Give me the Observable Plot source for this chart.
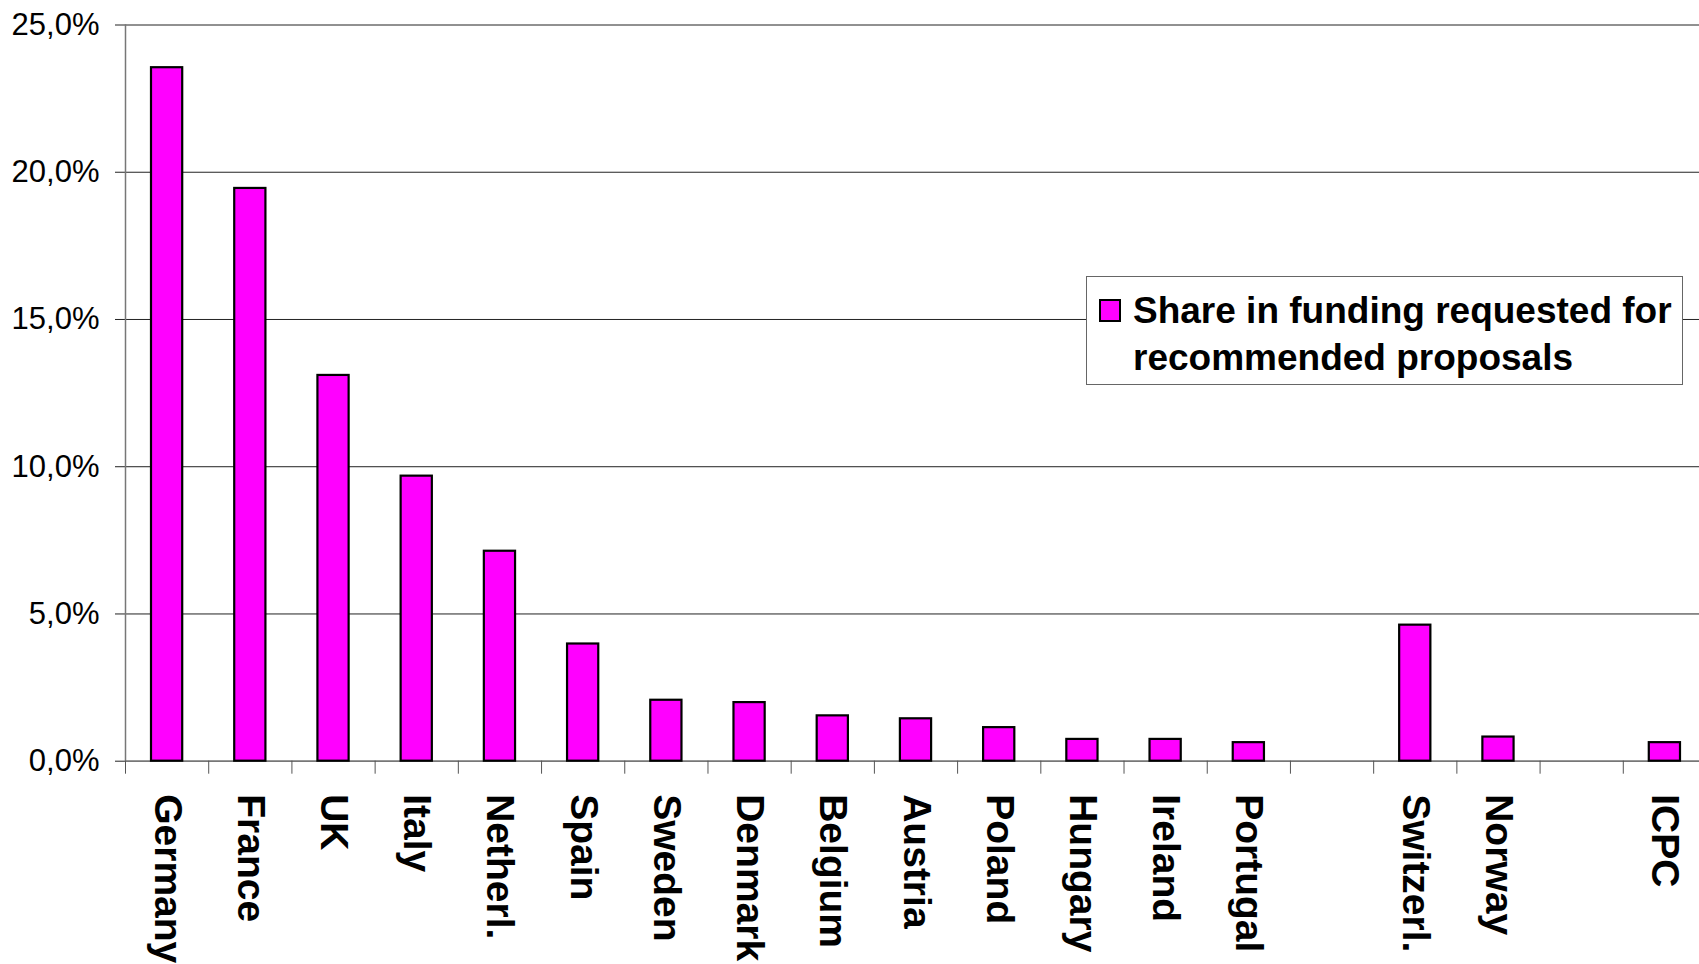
<!DOCTYPE html>
<html>
<head>
<meta charset="utf-8">
<script src="https://cdn.jsdelivr.net/npm/d3@7"></script>
<script src="https://cdn.jsdelivr.net/npm/@observablehq/plot@0.6"></script>
<style>
  html, body { margin: 0; padding: 0; background: #fff; }
  #wrap { position: relative; width: 1699px; height: 964px; overflow: hidden; font-family: "Liberation Sans", Arial, sans-serif; }
  #legend { position: absolute; left: 1086px; top: 276px; width: 597px; height: 109px; border: 1px solid #666; background: #fff; box-sizing: border-box; }
  #legend .sw { position: absolute; left: 12px; top: 22px; width: 22px; height: 23px; background: #ff00ff; border: 2px solid #000; box-sizing: border-box; }
  #legend .tx { position: absolute; left: 46px; top: 10px; font-size: 37px; font-weight: bold; line-height: 47px; color: #000; white-space: nowrap; }
</style>
</head>
<body>
<div id="wrap"></div>
<script>
// Categories in chart order ("" and " " are the two empty slots)
const categories = ["Germany", "France", "UK", "Italy", "Netherl.", "Spain", "Sweden", "Denmark", "Belgium", "Austria", "Poland", "Hungary", "Ireland", "Portugal", "", "Switzerl.", "Norway", " ", "ICPC"];
// Countries with a bar
const countries = ["Germany", "France", "UK", "Italy", "Netherl.", "Spain", "Sweden", "Denmark", "Belgium", "Austria", "Poland", "Hungary", "Ireland", "Portugal", "Switzerl.", "Norway", "ICPC"];
// Share in funding requested for recommended proposals (%)
const shares = [23.55, 19.45, 13.1, 9.68, 7.13, 3.98, 2.07, 1.99, 1.54, 1.44, 1.14, 0.74, 0.74, 0.63, 4.62, 0.82, 0.63];
const yTicks = [0, 5, 10, 15, 20, 25];
const seriesName = ["Share in funding requested for", "recommended proposals"];

const data = countries.map((c, i) => ({country: c, value: shares[i]}));

const W = 1699, H = 964, ML = 125, MR = -7, MT = 24.5, MB = 203.3;
const step = (W - ML - MR) / categories.length;
const fmt = d => d.toFixed(1).replace(".", ",") + "%";

const chart = Plot.plot({
  width: W,
  height: H,
  marginLeft: ML,
  marginRight: MR,
  marginTop: MT,
  marginBottom: MB,
  style: {fontFamily: "'Liberation Sans', Arial, sans-serif", background: "#fff", color: "#000", overflow: "hidden"},
  x: {type: "band", domain: categories, padding: 0, round: false},
  y: {domain: [0, 25]},
  marks: [
    Plot.gridY(yTicks, {stroke: "#222", strokeOpacity: 1, strokeWidth: 1}),
    Plot.ruleY([0], {stroke: "#777", strokeWidth: 1.5}),
    Plot.axisY(yTicks, {tickSize: 10, tickPadding: 16, tickFormat: fmt, fontSize: 31, stroke: "#222", label: null}),
    Plot.frame({anchor: "left", stroke: "#777", strokeWidth: 1.5}),
    Plot.axisX({tickSize: 13, tickFormat: () => "", dx: -step / 2, stroke: "#555", label: null}),
    Plot.axisX({tickSize: 0, tickPadding: 33, tickRotate: 90, fontSize: 39, fontWeight: "bold", label: null, tickFormat: d => d}),
    Plot.barY(data, {x: "country", y: "value", fill: "#ff00ff", stroke: "#000", strokeWidth: 2.2, insetLeft: 26, insetRight: 26})
  ]
});
const wrap = document.getElementById("wrap");
wrap.appendChild(chart);

const legend = document.createElement("div");
legend.id = "legend";
legend.innerHTML = `<div class="sw"></div><div class="tx">${seriesName.join("<br>")}</div>`;
wrap.appendChild(legend);
</script>
</body>
</html>
